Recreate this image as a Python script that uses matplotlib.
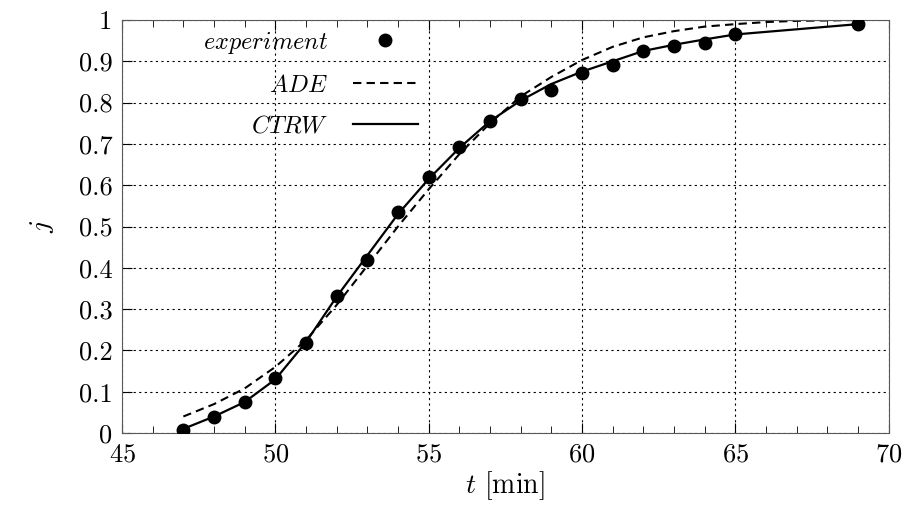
import matplotlib
matplotlib.use("Agg")
import matplotlib.pyplot as plt

plt.rcParams["font.family"] = "cmr10"
plt.rcParams["mathtext.fontset"] = "cm"
plt.rcParams["axes.formatter.use_mathtext"] = True

# experiment
t_exp = [47, 48, 49, 50, 51, 52, 53, 54, 55, 56, 57, 58, 59, 60, 61, 62, 63, 64, 65, 69]
j_exp = [0.007, 0.038, 0.075, 0.133, 0.218, 0.332, 0.419, 0.535, 0.620, 0.693,
         0.756, 0.809, 0.831, 0.872, 0.891, 0.925, 0.937, 0.944, 0.966, 0.990]

# ADE model (dashed)
t_ade = [47, 48, 49, 50, 51, 52, 53, 54, 55, 56, 57, 58, 59, 60, 61, 62, 63, 64, 65, 66, 67, 69]
j_ade = [0.04, 0.07, 0.108, 0.16, 0.225, 0.31, 0.405, 0.50, 0.59, 0.675, 0.75,
         0.815, 0.862, 0.903, 0.935, 0.958, 0.973, 0.984, 0.99, 0.995, 0.998, 1.0]

# CTRW model (solid)
t_ctrw = [47, 48, 49, 50, 51, 52, 53, 54, 55, 56, 57, 58, 59, 60, 61, 62, 63, 64, 65, 69]
j_ctrw = [0.01, 0.04, 0.075, 0.13, 0.22, 0.33, 0.43, 0.53, 0.615, 0.69, 0.755,
          0.805, 0.845, 0.875, 0.90, 0.925, 0.94, 0.953, 0.965, 0.99]

fig = plt.figure(figsize=(9.06, 5.08), dpi=100)
ax = fig.add_axes([0.1347, 0.1476, 0.846, 0.813])

ax.plot(t_exp, j_exp, "o", color="black", ms=9, label=r"$experiment$", zorder=3)
ax.plot(t_ade, j_ade, color="black", lw=1.5, dashes=(4, 2.5), label=r"$ADE$")
ax.plot(t_ctrw, j_ctrw, color="black", lw=1.6, label=r"$CTRW$")

ax.set_xlim(45, 70)
ax.set_ylim(0, 1)
ax.set_xticks([45, 50, 55, 60, 65, 70])
ax.set_xticks(range(45, 71), minor=True)
ax.set_yticks([i / 10 for i in range(11)])
ax.set_yticklabels(["0"] + [f"{i/10:.1f}" for i in range(1, 10)] + ["1"])
ax.grid(True, which="major", color="black", lw=0.8, linestyle=(0, (2, 3)))
ax.tick_params(which="both", direction="in", top=True, labelsize=19, pad=7)
ax.tick_params(which="major", length=7)
ax.tick_params(which="minor", length=5)
for s in ax.spines.values():
    s.set_color("0.35")

ax.set_xlabel(r"$t$ [min]", fontsize=20, labelpad=2)
ax.set_ylabel(r"$j$", fontsize=20, labelpad=16)

ax.legend(loc="upper right", bbox_to_anchor=(0.399, 1.0), borderaxespad=0, frameon=False,
          markerfirst=False, fontsize=17.5, handlelength=2.7, labelspacing=0.78,
          handletextpad=1.0)

fig.savefig("out.png", dpi=100)
